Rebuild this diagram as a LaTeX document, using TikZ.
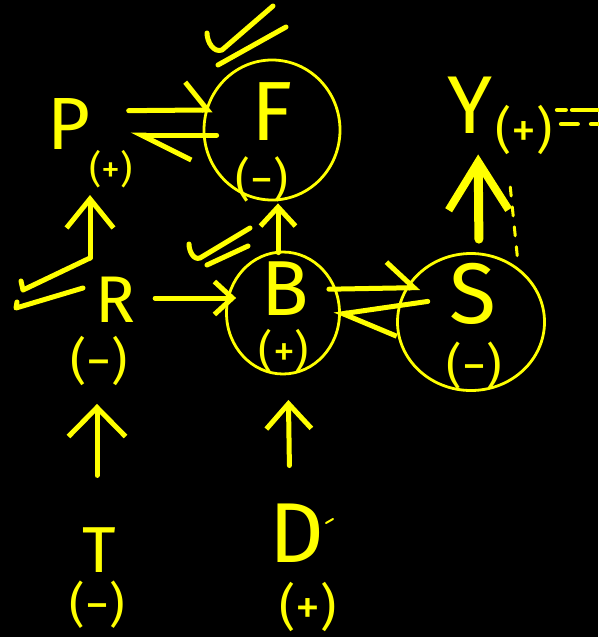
\documentclass[tikz,border=0pt]{standalone}
\usepackage{fontspec}
\setmainfont{Fira Sans}
\usetikzlibrary{arrows.meta,shapes.geometric}
\definecolor{hy}{HTML}{FFFF00}
\begin{document}
\begin{tikzpicture}[x=1pt,y=-1pt, line cap=round, line join=round,
  every node/.style={text=hy, inner sep=0pt},
  fs/.style={font=\fontsize{#1}{#1}\selectfont},
  pen/.style={draw=hy, line width=5pt},
  thin pen/.style={draw=hy, line width=3pt},
  loopc/.style={draw=hy, line width=2.8pt, ellipse, minimum width=#1},
  arr/.style n args={2}{pen, -{Straight Barb[length=#1,width=#2]}},
  harp/.style n args={2}{pen, -{Straight Barb[harpoon,length=#1,width=#2]}},
]
\fill[black] (0,0) rectangle (598,637);
\useasboundingbox (0,0) rectangle (598,637);

% variables
\node[fs=74] (P) at (69,124) {P};
\node[fs=38] (Ps) at (111,169) {(+)};
\node[fs=84] (F) at (272,112) {F};
\node[fs=46] (Fs) at (262,179) {(−)};
\node[fs=82] (Y) at (470,105) {Y};
\node[fs=50] (Ys) at (524,130) {(+)};
\node[fs=66] (R) at (115,300) {R};
\node[fs=50] (Rs) at (99,361) {(−)};
\node[fs=78] (B) at (285,289) {B};
\node[fs=44] (Bs) at (284,351) {(+)};
\node[fs=86] (S) at (473,294) {S};
\node[fs=48] (Ss) at (474,366) {(−)};
\node[fs=65] (T) at (99,550) {T};
\node[fs=48] (Ts) at (97,605) {(−)};
\node[fs=85] (D) at (297,533) {D};
\node[fs=50] (Ds) at (308,607) {(+)};

% loops drawn round some variables
\node[loopc=136pt, minimum height=140pt] (Fl) at (272,130) {};
\node[loopc=113pt, minimum height=122pt] (Bl) at (283,313) {};
\node[loopc=147pt, minimum height=137pt] (Sl) at (471,322) {};

% connectors
\draw[arr={29pt}{57pt}, shorten <=52pt, shorten >=18pt] ([xshift=-2pt]T.north) -- ([xshift=-2pt]Rs.south);
\draw[arr={25pt}{45pt}, shorten <=38pt, shorten >=27pt] ([xshift=-7pt]D.north) -- ([xshift=4pt]Bs.south);
\draw[arr={29pt}{47pt}, shorten <=19pt, shorten >=7pt] ([xshift=-25pt]R.north) -- ([xshift=-21pt]Ps.south);
\draw[arr={18pt}{33pt}, shorten <=20pt, shorten >=-11pt] ([yshift=2pt]R.east) -- ([yshift=2pt]R.east -| Bl.west);
\draw[arr={19pt}{35pt}, shorten <=-2pt, shorten >=2pt] ([xshift=-5pt]Bl.north) -- ([xshift=6pt]Fl.south);
\draw[harp={22pt}{56pt}, shorten <=38pt, shorten >=-10pt] ([yshift=13pt]P.east) -- ([yshift=20pt]Fl.west);
\draw[harp={50pt}{50pt}, shorten <=-14pt, shorten >=40pt] ([yshift=-5pt]Fl.west) -- ([yshift=-11pt]P.east);
\draw[harp={27pt}{52pt}, shorten <=-12pt, shorten >=-24pt] ([yshift=24pt]Bl.east) -- ([yshift=34pt]Sl.west);
\draw[harp={50pt}{60pt}, shorten <=-32pt, shorten >=-7pt] ([yshift=16pt]Sl.west) -- ([yshift=-1pt]Bl.east);
\draw[draw=hy, line width=9pt, -{Straight Barb[length=48pt,width=60pt,line width=8pt]}, shorten <=13pt, shorten >=21pt] ([xshift=8pt]Sl.north) -- ([xshift=8pt]Y.south);
\draw[thin pen, dash pattern=on 9pt off 11pt, shorten <=17pt, shorten >=22pt] ([xshift=-5pt]Sl.north east) -- ([xshift=-17pt]Ys.south);
\coordinate (Yout1) at (598,110);
\coordinate (Yout2) at (598,124);
\draw[draw=hy, line width=4pt, dash pattern=on 9pt off 6pt on 40pt off 6pt, shorten <=4pt] ([yshift=20pt]Ys.east) -- (Yout1);
\draw[draw=hy, line width=4pt, dash pattern=on 17pt off 13pt on 30pt off 6pt, shorten <=8pt] ([yshift=6pt]Ys.east) -- (Yout2);

% delay marks
\draw[pen] (207,33) to[out=-90,in=200] (222,50) -- (273,6);
\draw[pen] (218,65) -- (286,27);
\draw[pen] (189,244) to[out=-90,in=200] (200,258) -- (250,228);
\draw[pen] (207,265) -- (248,246);
\draw[pen] (21,281) -- (23,290) -- (90,258);
\draw[pen] (17,302) -- (16,308) -- (83,288);
\draw[draw=hy, line width=2pt] (326,523) -- (333,519);
\end{tikzpicture}
\end{document}
